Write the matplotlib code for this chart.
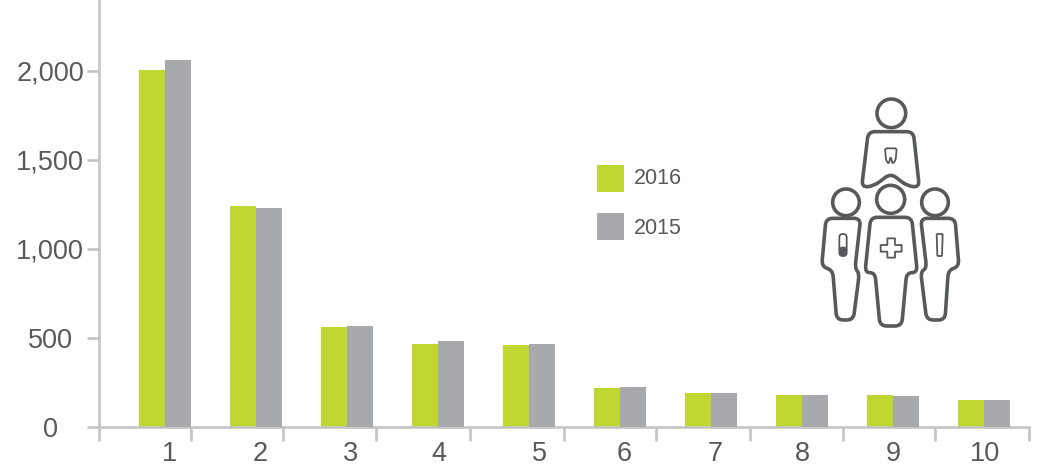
import matplotlib
matplotlib.use("Agg")
import matplotlib.pyplot as plt
from matplotlib.patches import Circle, PathPatch, Rectangle
from matplotlib.path import Path
import numpy as np

plt.rcParams['font.family'] = ['Liberation Sans', 'DejaVu Sans']

# Data
categories = ["1", "2", "3", "4", "5", "6", "7", "8", "9", "10"]
values_2016 = [2005, 1240, 560, 465, 458, 218, 190, 180, 180, 150]
values_2015 = [2062, 1232, 566, 482, 465, 224, 190, 180, 172, 150]
y_ticks = [0, 500, 1000, 1500, 2000]
legend_names = ["2016", "2015"]

# Style
GREEN = "#bfd730"
GREY = "#a7a9ac"
AXIS = "#c4c4c4"
TEXT = "#58595b"
W, H = 1044, 467
px = 72 / 100  # points per pixel at dpi 100

# Axis layout, in pixels of the figure
tick_px = [99, 191, 283, 376, 470, 564, 656, 750, 843, 935, 1029]
label_px = [169, 260, 351, 439, 539, 624, 715, 802, 893, 985]
first_bar_px = 165
step_px = 91
zero_px = 427
per_500_px = 89


def x_data(pixels):
    return [(p - first_bar_px) / step_px + 1 for p in pixels]


def rounded(points, r=14):
    """ Closed path through points with rounded corners, in zoom-crop coordinates """
    pts = [np.array(p, dtype=float) for p in points]
    verts, codes = [], []
    for i, p in enumerate(pts):
        prev_p, next_p = pts[i - 1], pts[(i + 1) % len(pts)]
        a = p + (prev_p - p) * min(r / np.linalg.norm(prev_p - p), 0.5)
        b = p + (next_p - p) * min(r / np.linalg.norm(next_p - p), 0.5)
        verts.append(a)
        codes.append(Path.MOVETO if i == 0 else Path.LINETO)
        verts.extend([p, b])
        codes.extend([Path.CURVE3, Path.CURVE3])
    verts.append(verts[0])
    codes.append(Path.CLOSEPOLY)
    verts = np.array(verts) / 3 + np.array([800, 90])
    return Path(verts, codes)


def main():
    fig = plt.figure(figsize=(W / 100, H / 100), dpi=100)
    ax = fig.add_axes([99 / W, (H - zero_px) / H, (1029 - 99) / W, zero_px / H])
    ax.set_xlim(x_data([99])[0], x_data([1029])[0])
    ax.set_ylim(0, zero_px / per_500_px * 500)

    # Bars
    xs = np.arange(1, len(categories) + 1)
    width = 26 / step_px
    ax.bar(xs - width / 2, values_2016, width, color=GREEN, zorder=2)
    ax.bar(xs + width / 2, values_2015, width, color=GREY, zorder=3)

    # Axes
    for side in ("top", "right"):
        ax.spines[side].set_visible(False)
    for side in ("left", "bottom"):
        ax.spines[side].set_color(AXIS)
        ax.spines[side].set_linewidth(2.6 * px)
        ax.spines[side].set_zorder(2.5)

    ax.set_yticks(y_ticks)
    ax.set_yticklabels([f"{v:,}" for v in y_ticks], ha="center")
    ax.tick_params(axis="y", length=12 * px, width=2.6 * px, color=AXIS,
                   labelcolor=TEXT, labelsize=19.5, pad=37 * px)
    ax.set_xticks(x_data(tick_px))
    ax.set_xticklabels([])
    ax.tick_params(axis="x", which="major", length=14 * px, width=2.6 * px, color=AXIS)
    ax.set_xticks(x_data(label_px), minor=True)
    ax.set_xticklabels(categories, minor=True)
    ax.tick_params(axis="x", which="minor", length=0, labelcolor=TEXT, labelsize=19.5, pad=14 * px)

    # Overlay in pixel coordinates for legend and icon
    over = fig.add_axes([0, 0, 1, 1], facecolor="none")
    over.set_xlim(0, W)
    over.set_ylim(H, 0)
    over.axis("off")

    for y, color, name, text_y in zip([165, 213], [GREEN, GREY], legend_names, [178, 228.5]):
        over.add_patch(Rectangle((597, y), 27, 27, color=color, lw=0))
        over.text(634, text_y, name, color=TEXT, fontsize=15.5, va="center", ha="left")

    draw_icon(over)
    fig.savefig("out.png", dpi=100)


def draw_icon(over):
    lw = 3.6 * px
    heads = [(274, 70, 43), (272, 328, 42), (138, 337, 40), (405, 337, 40)]
    for cx, cy, r in heads:
        over.add_patch(Circle((800 + cx / 3, 90 + cy / 3), r / 3, fill=False, ec=TEXT, lw=lw))

    top = [(205, 125), (340, 125), (358, 292), (322, 288), (272, 250), (222, 288), (185, 292)]
    middle = [(212, 382), (335, 382), (352, 548), (320, 548), (305, 708), (240, 708), (225, 548), (195, 548)]
    left = [(78, 385), (182, 385), (165, 535), (178, 550), (160, 690), (110, 690), (98, 540), (65, 530)]
    right = [(362, 385), (465, 385), (477, 530), (445, 540), (435, 690), (380, 690), (362, 545), (380, 535)]
    for outline in (top, middle, left, right):
        over.add_patch(PathPatch(rounded(outline, 20), fill=False, ec=TEXT, lw=lw, joinstyle="round"))

    # Small symbols on the bodies
    thin = 1.8 * px
    tooth = [(255, 175), (290, 175), (287, 210), (278, 222), (272, 200), (266, 222), (258, 210)]
    over.add_patch(PathPatch(rounded(tooth, 6), fill=False, ec=TEXT, lw=thin))
    plus = [(262, 445), (285, 445), (285, 465), (305, 465), (305, 485), (285, 485), (285, 503),
            (262, 503), (262, 485), (242, 485), (242, 465), (262, 465)]
    over.add_patch(PathPatch(rounded(plus, 1), fill=False, ec=TEXT, lw=thin))
    tube = [(410, 432), (428, 432), (426, 498), (412, 498)]
    over.add_patch(PathPatch(rounded(tube, 3), fill=False, ec=TEXT, lw=thin))
    pill = [(118, 432), (140, 432), (140, 498), (118, 498)]
    over.add_patch(PathPatch(rounded(pill, 10), fill=False, ec=TEXT, lw=thin))
    pill_low = [(118, 470), (140, 470), (140, 498), (118, 498)]
    over.add_patch(PathPatch(rounded(pill_low, 8), color=TEXT, lw=0))


if __name__ == '__main__':
    main()
